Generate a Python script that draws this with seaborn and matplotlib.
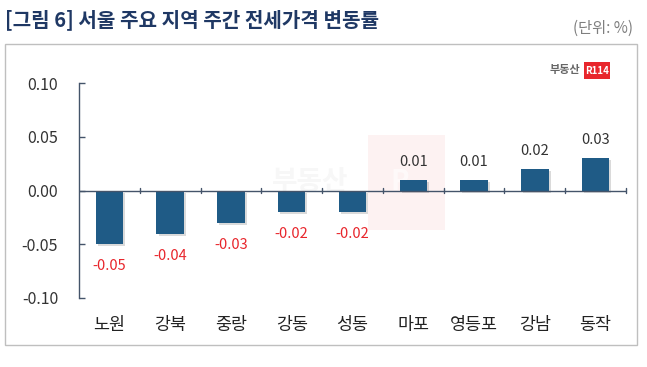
import matplotlib
matplotlib.use("Agg")
import matplotlib.pyplot as plt
import matplotlib.patheffects as pe
from matplotlib.patches import Rectangle
import seaborn as sns
import pandas as pd

categories = ['노원', '강북', '중랑', '강동', '성동', '마포', '영등포', '강남', '동작']
values = [-0.05, -0.04, -0.03, -0.02, -0.02, 0.01, 0.01, 0.02, 0.03]
yticks = [-0.10, -0.05, 0.00, 0.05, 0.10]
title = '[그림 6] 서울 주요 지역 주간 전세가격 변동률'
unit = '(단위: %)'

sns.set_theme(style='white')
plt.rcParams['font.family'] = ['Noto Sans CJK KR', 'DejaVu Sans']

W, H = 647, 367
fig = plt.figure(figsize=(W / 100, H / 100), dpi=100)
ax = fig.add_axes([79 / W, 1 - 298 / H, (626 - 79) / W, (298 - 83) / H])
ax.patch.set_alpha(0)

df = pd.DataFrame({'region': categories, 'value': values})
bar_color = '#1F5B86'
sns.barplot(data=df, x='region', y='value', ax=ax, color=bar_color,
            width=0.45, saturation=1)
for p in ax.patches:
    p.set_edgecolor('none')
    p.set_path_effects([pe.SimplePatchShadow(offset=(1.5, -1.5), alpha=0.18, shadow_rgbFace='#333333'),
                        pe.Normal()])

ax.set_xlim(-0.5, len(categories) - 0.5)
ax.set_ylim(-0.10, 0.10)
ax.set_yticks(yticks)
ax.set_yticklabels([f'{v:.2f}' for v in yticks], fontsize=11.5, color='#333333')
ax.set_xlabel('')
ax.set_ylabel('')

spine_color = '#44546A'
for s in ['top', 'right', 'bottom']:
    ax.spines[s].set_visible(False)
ax.spines['left'].set_color(spine_color)
ax.spines['left'].set_linewidth(1.0)
ax.tick_params(axis='y', direction='in', length=4, color=spine_color, width=1, pad=15, left=True)

# zero axis line with category separators
ax.axhline(0, color=spine_color, lw=1.0, zorder=1)
ax.set_xticks([])
for i in range(1, len(categories) + 1):
    ax.plot([i - 0.5, i - 0.5], [-0.002, 0.002], color=spine_color, lw=1.0, zorder=1,
            clip_on=False)

# category labels at the bottom
trans = matplotlib.transforms.blended_transform_factory(ax.transData, ax.transAxes)
for i, c in enumerate(categories):
    ax.text(i, -0.125, c, transform=trans, ha='center', va='center', fontsize=12.5, color='#222222')

# value labels
for i, v in enumerate(values):
    if v < 0:
        ax.annotate(f'{v:.2f}', (i, v), xytext=(0, -16), textcoords='offset points',
                    ha='center', va='center', fontsize=10.5, color='#E8262C')
    else:
        ax.annotate(f'{v:.2f}', (i, v), xytext=(0, 13), textcoords='offset points',
                    ha='center', va='center', fontsize=10.5, color='#333333')

# watermark (behind the chart)
fig.patches.append(Rectangle((368 / W, 1 - 230 / H), 77 / W, 95 / H, transform=fig.transFigure,
                             facecolor='#E8262C', alpha=0.06, edgecolor='none', zorder=-2))
wm1 = fig.text(310 / W, 1 - 182 / H, '부동산', fontsize=20, fontweight='bold', color='#999999', alpha=0.08,
               ha='center', va='center')
wm1.set_zorder(-1)
wm2 = fig.text(400 / W, 1 - 182 / H, 'R', fontsize=20, fontweight='bold', color='white', alpha=0.6,
               ha='center', va='center')
wm2.set_zorder(-1)

# outer box
fig.patches.append(Rectangle((5 / W, 1 - 345 / H), 632 / W, 301 / H, transform=fig.transFigure,
                             facecolor='none', edgecolor='#BFBFBF', lw=1.0))

# title and unit
fig.text(5 / W, 1 - 20 / H, title, fontsize=14.5, fontweight='bold', color='#1F3864',
         ha='left', va='center')
fig.text(633 / W, 1 - 28 / H, unit, fontsize=11, color='#7F7F7F', ha='right', va='center')

# logo
fig.text(580 / W, 1 - 70 / H, '부동산', fontsize=8, fontweight='bold', color='#666666',
         ha='right', va='center')
fig.patches.append(Rectangle((584 / W, 1 - 79 / H), 26 / W, 17 / H, transform=fig.transFigure,
                             facecolor='#E8262C', edgecolor='none'))
fig.text(597 / W, 1 - 70.5 / H, 'R114', fontsize=7, fontweight='bold', color='white',
         ha='center', va='center')

fig.savefig('out.png', dpi=100, facecolor='white')
